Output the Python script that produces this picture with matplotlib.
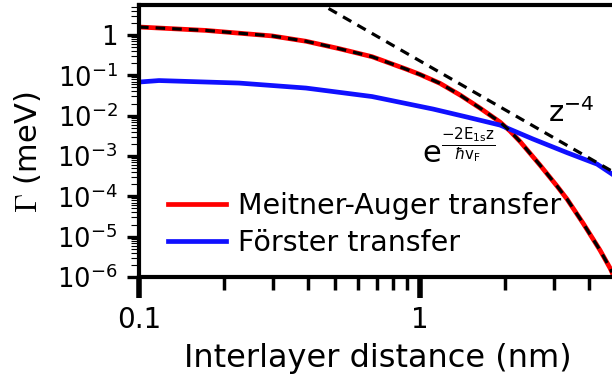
import numpy as np
import matplotlib
matplotlib.use("Agg")
import matplotlib.pyplot as plt
from matplotlib.ticker import LogLocator, FixedLocator, NullFormatter, FuncFormatter

# values (z in nm, Gamma in meV)
z_auger = [0.1, 0.1732, 0.2973, 0.3929, 0.5149, 0.675, 0.8917, 1.0, 1.178, 1.388, 1.635,
           1.926, 2.09, 2.27, 2.673, 3.073, 3.336, 3.802, 4.371, 4.746, 4.82]
gamma_auger = [1.58, 1.3, 0.95, 0.7, 0.46, 0.29, 0.143, 0.105, 0.0633, 0.0325, 0.0154,
               0.00694, 0.00415, 0.00228, 5.94e-4, 1.79e-4, 8.5e-5, 2.16e-5, 4.6e-6, 1.65e-6, 1.3e-6]

z_forster = [0.1, 0.1178, 0.227, 0.3929, 0.675, 1.1125, 1.47, 1.926, 2.525,
             3.336, 4.265, 4.824]
gamma_forster = [0.0682, 0.0743, 0.0644, 0.0484, 0.0298, 0.0146, 0.00923, 0.00585,
                 0.00263, 0.00121, 6.3e-4, 3.56e-4]

# exponential fit, lies on top of the Auger curve
z_exp = z_auger
gamma_exp = gamma_auger

# power law fit, Gamma = C / z^4
z_pow = [0.42, 4.85]
c_pow = 0.227
gamma_pow = [c_pow / z**4 for z in z_pow]

x_ticks = [0.1, 1]
x_tick_labels = ["0.1", "1"]

plt.rcParams['font.family'] = ['DejaVu Sans']
plt.rcParams['mathtext.fontset'] = 'dejavusans'

fig = plt.figure(figsize=(6.12, 3.83), dpi=100)
ax = fig.add_axes([139/612, 1 - 277/383, 1 - 139/612, 272/383])

ax.plot(z_auger, gamma_auger, color='#ff0000', lw=3.4, label='Meitner-Auger transfer')
ax.plot(z_forster, gamma_forster, color='#1010ff', lw=3.4, label='Förster transfer')
ax.plot(z_exp, gamma_exp, color='black', lw=2.3, ls=(0, (3.0, 2.2)))
ax.plot(z_pow, gamma_pow, color='black', lw=2.3, ls=(0, (3.0, 2.2)))

ax.set_xscale('log')
ax.set_yscale('log')
ax.set_xlim(0.1, 4.82)
ax.set_ylim(1e-6, 5.55)

# ticks
ax.xaxis.set_major_locator(FixedLocator(x_ticks))
ax.set_xticklabels(x_tick_labels)
ax.xaxis.set_minor_locator(LogLocator(base=10, subs=np.arange(2, 10)))
ax.xaxis.set_minor_formatter(NullFormatter())

def ylab(v, pos):
    e = int(round(np.log10(v)))
    if e == 0:
        return "1"
    return r'$\mathregular{10^{%d}}$' % e

ax.yaxis.set_major_locator(LogLocator(base=10, numticks=20))
ax.yaxis.set_major_formatter(FuncFormatter(ylab))
ax.yaxis.set_minor_locator(LogLocator(base=10, subs=np.arange(2, 10), numticks=20))
ax.yaxis.set_minor_formatter(NullFormatter())

ax.tick_params(axis='x', which='major', direction='out', length=15, width=4, labelsize=20, pad=6)
ax.tick_params(axis='x', which='minor', direction='out', length=9, width=2.5)
ax.tick_params(axis='y', which='major', direction='out', length=8.5, width=2.4, labelsize=18.5, pad=7)
ax.tick_params(axis='y', which='minor', direction='out', length=5.5, width=0.8)

for s in ['left', 'bottom', 'top']:
    ax.spines[s].set_linewidth(3)
ax.spines['right'].set_visible(False)

ax.set_xlabel('Interlayer distance (nm)', fontsize=23)
ax.xaxis.label.set_va('center')
ax.xaxis.set_label_coords(0.505, -0.30)
ax.set_ylabel(r'$\mathrm{\Gamma}$ (meV)', fontsize=22)
ax.yaxis.label.set_math_fontfamily('cm')
ax.yaxis.label.set_va('center')
ax.yaxis.set_label_coords(-0.235, 0.46)

# annotations
ax.annotate(r'z$^{\mathregular{-4}}$', xy=(548, 383 - 122), xycoords='figure pixels',
            fontsize=21, va='baseline')
ax.annotate(r'e$^{\frac{\mathregular{-2E_{1s}z}}{\hbar \mathregular{v_F}}}$', xy=(422, 383 - 163),
            xycoords='figure pixels', fontsize=22, va='baseline')

leg = ax.legend(loc='center left', bbox_to_anchor=(0.061, 0.193), frameon=False,
                fontsize=20.5, handlelength=2.05, handletextpad=0.4, labelspacing=0.32,
                borderpad=0, borderaxespad=0)

fig.savefig('out.png', dpi=100)
